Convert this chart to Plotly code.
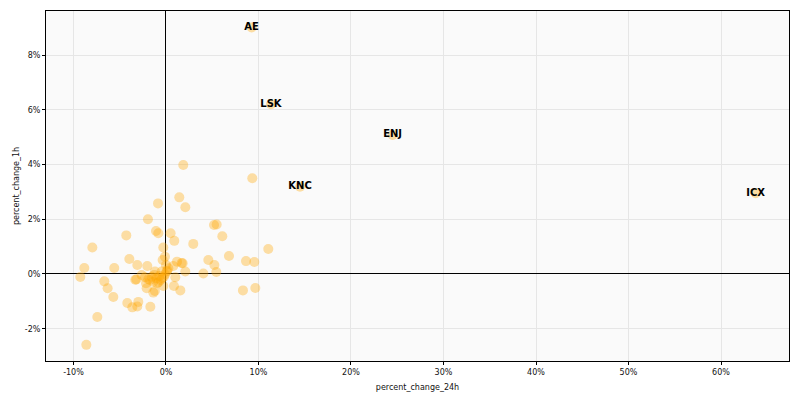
import plotly.graph_objects as go

# unlabeled coins: percent_change_24h, percent_change_1h
pc24 = [1.87, 9.33, 1.44, -0.86, 2.09, -1.95, -1.08, -0.83, 0.5, -4.29, 5.19, 5.48, 6.09, 0.9, 2.95,
        -7.96, -0.29, 11.06, 6.81, -0.11, -0.36, -3.96, 4.58, 8.65, 9.55, -3.1, -2.02, 1.19, 1.69, 1.8,
        0.79, 5.23, -8.83, -5.59, 2.09, 4.04, 5.44, -9.26, -6.67, -6.31, -5.69, -3.32, -3.2, -4.18, -3.64,
        -3.1, -2.99, -1.69, -7.42, -8.61, 8.32, 9.66, 0.86, 1.55, 1.01, -0.29, -1.37, -1.2, -2.09,
        -2.63, -2.27, -1.91, -1.55, -1.26, -1.01, -0.72, -0.58, -0.22, 0.07, 0.25, 0.0, -0.94, -1.37,
        -1.73, -2.16, -1.19, -0.47, -0.1, -0.4, -0.8, 0.15]
pc1 = [3.98, 3.5, 2.8, 2.58, 2.44, 2.0, 1.57, 1.49, 1.49, 1.41, 1.79, 1.81, 1.38, 1.21, 1.1,
       0.97, 0.97, 0.91, 0.66, 0.63, 0.51, 0.55, 0.51, 0.47, 0.44, 0.33, 0.29, 0.45, 0.40, 0.39,
       0.29, 0.33, 0.22, 0.22, 0.09, 0.02, 0.07, -0.11, -0.27, -0.52, -0.84, -0.21, -0.2, -1.06, -1.22,
       -1.19, -1.02, -1.2, -1.57, -2.59, -0.6, -0.51, -0.44, -0.6, -0.12, -0.44, -0.68, -0.62, -0.52,
       -0.04, -0.12, -0.19, -0.1, -0.04, -0.16, -0.07, -0.22, -0.1, 0.09, 0.21, 0.33, -0.34, -0.28,
       -0.22, -0.34, 0.09, 0.09, -0.02, -0.15, -0.3, 0.12]

# labeled coins
lab_names = ["AE", "LSK", "ENJ", "KNC", "ICX"]
lab_pc24 = [9.26, 11.35, 24.5, 14.49, 63.75]
lab_pc1 = [9.01, 6.2, 5.08, 3.19, 2.95]

x_ticks = [-10, 0, 10, 20, 30, 40, 50, 60]
x_tick_text = ["-10%", "0%", "10%", "20%", "30%", "40%", "50%", "60%"]
y_ticks = [-2, 0, 2, 4, 6, 8]
y_tick_text = ["-2%", "0%", "2%", "4%", "6%", "8%"]

orange = "rgba(255,165,0,0.35)"

fig = go.Figure()
fig.add_trace(go.Scatter(x=pc24, y=pc1, mode="markers",
                         marker=dict(size=10, color=orange, line=dict(width=0)),
                         showlegend=False))
fig.add_trace(go.Scatter(x=lab_pc24, y=lab_pc1, mode="markers",
                         marker=dict(size=10, color=orange, line=dict(width=0)),
                         showlegend=False))
fig.add_trace(go.Scatter(x=lab_pc24, y=lab_pc1, mode="text", text=lab_names,
                         textposition="middle center",
                         textfont=dict(family="DejaVu Sans", size=10, color="black", weight="bold"),
                         showlegend=False))

axis_common = dict(showgrid=True, gridcolor="rgb(230,230,230)", gridwidth=1,
                   zeroline=True, zerolinecolor="black", zerolinewidth=1,
                   showline=True, linecolor="black", linewidth=1, mirror=True,
                   ticks="outside", ticklen=3, tickcolor="black",
                   automargin=False,
                   tickfont=dict(family="DejaVu Sans", size=8, color="#111"),
                   title_font=dict(family="DejaVu Sans", size=8, color="#111"))

fig.update_xaxes(range=[-12.97, 67.35], tickvals=x_ticks, ticktext=x_tick_text,
                 title_text="percent_change_24h", title_standoff=8, **axis_common)
fig.update_yaxes(range=[-3.18, 9.61], tickvals=y_ticks, ticktext=y_tick_text,
                 title_text="percent_change_1h", title_standoff=4, **axis_common)

fig.update_layout(width=792, height=392, margin=dict(l=38, r=11, t=3, b=39),
                  paper_bgcolor="white", plot_bgcolor="rgb(250,250,250)",
                  font=dict(family="DejaVu Sans", size=8))

fig.write_html("out.html")
